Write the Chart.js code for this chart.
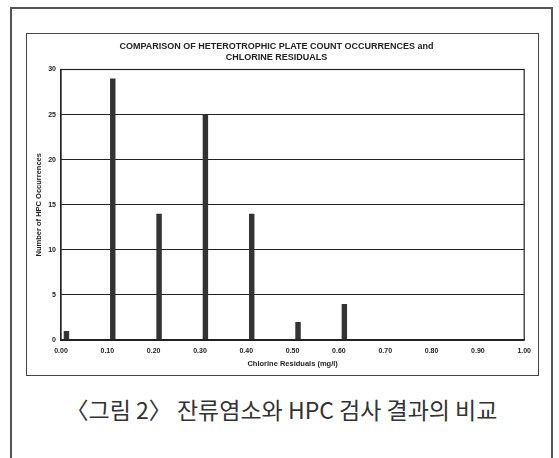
<!DOCTYPE html>
<html>
<head>
<meta charset="utf-8">
<script src="https://cdn.jsdelivr.net/npm/chart.js@4"></script>
<style>
  body { margin: 0; background: #fff; width: 559px; height: 458px; overflow: hidden; position: relative; }
  #frame { position: absolute; left: 10px; top: 7px; width: 539px; height: 460px; border: 2px solid #555; border-bottom: none; }
  #box { position: absolute; left: 26px; top: 33px; width: 511px; height: 341px; border: 1px solid #444; }
  #caption { position: absolute; left: 10px; width: 543px; top: 392px; text-align: center;
    font-family: "Noto Sans CJK KR", sans-serif; font-size: 23px; color: #333; }
</style>
</head>
<body>
<div id="frame"></div>
<div id="box"><canvas id="hpcChart" width="511" height="341"></canvas></div>
<div id="caption">〈그림 2〉 잔류염소와 HPC 검사 결과의 비교</div>
<script>
var residuals = ['0.00','0.10','0.20','0.30','0.40','0.50','0.60','0.70','0.80','0.90','1.00'];
var occurrences = [1, 29, 14, 25, 14, 2, 4, null, null, null, null];
var yTicks = [0, 5, 10, 15, 20, 25, 30];

var ctx = document.getElementById('hpcChart');

// box round the plot area, like the old excel chart
var plotBox = {
  id: 'plotBox',
  afterDatasetsDraw: function(chart) {
    let a = chart.chartArea;
    let c = chart.ctx;
    c.save();
    c.strokeStyle = '#222';
    c.lineWidth = 1.2;
    c.strokeRect(a.left, a.top, a.right - a.left, a.bottom - a.top);
    c.restore();
  }
};

var chart = new Chart(ctx, {
  type: 'bar',
  data: {
    labels: residuals,
    datasets: [{
      label: 'spacer',
      data: []
    },{
      label: 'HPC Occurrences',
      data: occurrences,
      backgroundColor: '#333',
      borderWidth: 0,
      categoryPercentage: 0.47,
      barPercentage: 0.5
    }]
  },
  options: {
    responsive: false,
    animation: false,
    layout: {
      padding: { left: 0, right: 12, top: 0, bottom: 0 }
    },
    plugins: {
      legend: { display: false },
      tooltip: { enabled: false },
      title: {
        display: true,
        text: ['COMPARISON OF HETEROTROPHIC PLATE COUNT OCCURRENCES and', 'CHLORINE RESIDUALS'],
        color: '#222',
        font: { family: 'Liberation Sans', size: 9, weight: 'bold', lineHeight: 1.25 },
        padding: { top: 7, bottom: 6 }
      }
    },
    scales: {
      x: {
        offset: false,
        afterFit: function(axis) { axis.height = 35; },
        grid: { display: false, drawTicks: false },
        border: { color: '#222', width: 1.2 },
        ticks: {
          color: '#222',
          padding: 7,
          maxRotation: 0,
          autoSkip: false,
          font: { family: 'Liberation Sans', size: 7, weight: 'bold' }
        },
        title: {
          display: true,
          text: 'Chlorine Residuals (mg/l)',
          color: '#222',
          font: { family: 'Liberation Sans', size: 7.5, weight: 'bold' },
          padding: { top: 0, bottom: 7 }
        }
      },
      y: {
        min: 0,
        max: 30,
        afterFit: function(axis) { axis.width = 34; },
        afterBuildTicks: function(axis) {
          axis.ticks = yTicks.map(function(v) { return { value: v }; });
        },
        grid: { color: '#222', lineWidth: 1, drawTicks: false },
        border: { color: '#222', width: 1.2 },
        ticks: {
          color: '#222',
          padding: 5,
          font: { family: 'Liberation Sans', size: 7, weight: 'bold' }
        },
        title: {
          display: true,
          text: 'Number of HPC Occurrences',
          color: '#222',
          font: { family: 'Liberation Sans', size: 7.5, weight: 'bold' },
          padding: { top: 7, bottom: 0 }
        }
      }
    }
  },
  plugins: [plotBox]
});
</script>
</body>
</html>
